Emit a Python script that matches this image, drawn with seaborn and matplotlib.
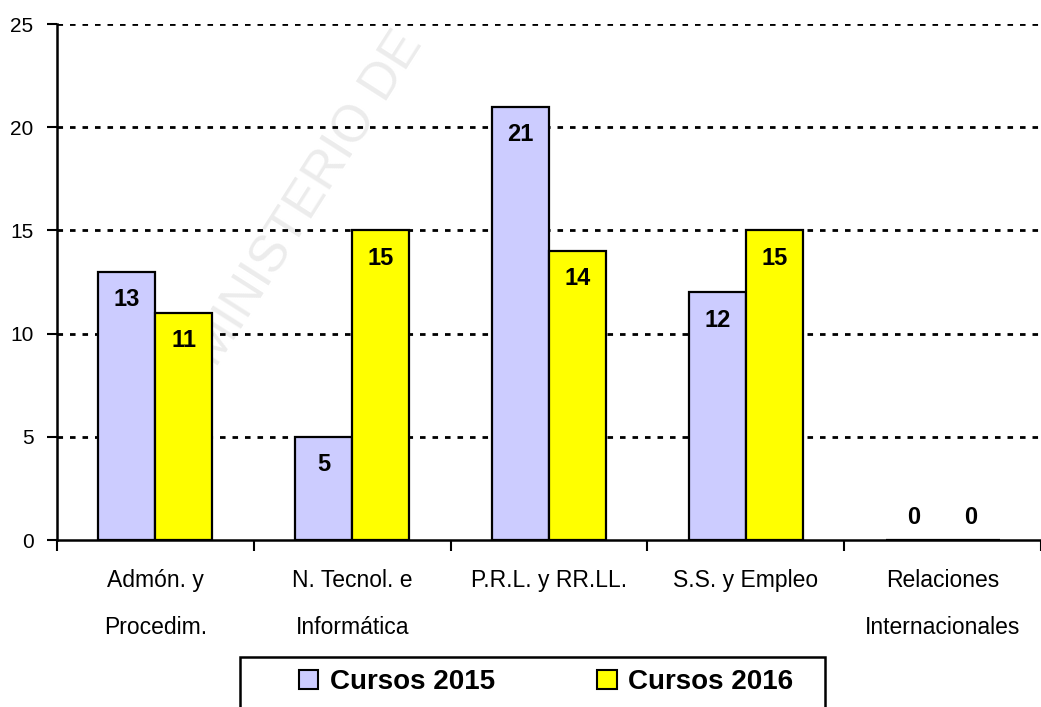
import pandas as pd
import matplotlib
matplotlib.use('Agg')
import matplotlib.pyplot as plt
import seaborn as sns
from matplotlib.patches import Rectangle

categorias = ['Admón. y\nProcedim.', 'N. Tecnol. e\nInformática', 'P.R.L. y RR.LL.',
              'S.S. y Empleo', 'Relaciones\nInternacionales']
cursos_2015 = [13, 5, 21, 12, 0]
cursos_2016 = [11, 15, 14, 15, 0]
series = ['Cursos 2015', 'Cursos 2016']
colores = ['#CCCCFF', '#FFFF00']

df = pd.DataFrame({
    'cat': categorias * 2,
    'valor': cursos_2015 + cursos_2016,
    'serie': [series[0]] * len(categorias) + [series[1]] * len(categorias),
})

sns.set_style('white')
plt.rcParams['font.family'] = ['Liberation Sans', 'DejaVu Sans']
plt.rcParams['text.color'] = 'black'
plt.rcParams['xtick.color'] = 'black'
plt.rcParams['ytick.color'] = 'black'

fig = plt.figure(figsize=(10.41, 7.07), dpi=100)
ax = fig.add_axes([57 / 1041, 1 - 540 / 707, 1 - 57 / 1041, (540 - 24) / 707])

# marca de agua tenue, detrás de las barras
ax.text(226 / 1041, 1 - 375 / 707, 'MINISTERIO DE', rotation=57.5,
        rotation_mode='anchor', ha='left', va='bottom', fontsize=37,
        color='#ececec', transform=fig.transFigure, zorder=0.5, clip_on=False)

sns.barplot(data=df, x='cat', y='valor', hue='serie', palette=colores,
            width=0.58, edgecolor='black', linewidth=1.6, saturation=1,
            ax=ax, zorder=3, legend=True)

for cont in ax.containers:
    for bar in cont:
        h = bar.get_height()
        xc = bar.get_x() + bar.get_width() / 2
        y = h - 1.35 if h > 0 else 1.1
        ax.text(xc, y, f'{h:.0f}', ha='center', va='center', fontsize=17,
                fontweight='bold', color='black', zorder=5)

ax.set_ylim(0, 25)
ax.set_xlim(-0.5, len(categorias) - 0.5)
ax.set_yticks([0, 5, 10, 15, 20, 25])
ax.set_yticklabels(['0', '5', '10', '15', '20', '25'], fontsize=15)
ax.set_xticks([i - 0.5 for i in range(len(categorias) + 1)])
ax.set_xticklabels([])
ax.set_xticks(range(len(categorias)), minor=True)
ax.set_xticklabels(categorias, minor=True, fontsize=16.5, linespacing=2.35)
ax.tick_params(axis='x', which='major', direction='out', length=8, width=1.5,
               color='black', bottom=True)
ax.tick_params(axis='x', which='minor', length=0, pad=21)
ax.tick_params(axis='y', direction='out', length=7, width=1.5, color='black',
               left=True, pad=10)
ax.set_xlabel('')
ax.set_ylabel('')

for y in [5, 10, 15, 20, 25]:
    ax.axhline(y, color='black', linestyle=(0, (2, 2.5)), linewidth=2, zorder=1)

for s in ['top', 'right']:
    ax.spines[s].set_visible(False)
for s in ['left', 'bottom']:
    ax.spines[s].set_color('black')
    ax.spines[s].set_linewidth(1.8)
    ax.spines[s].set_zorder(6)

handles, labels = ax.get_legend_handles_labels()
ax.get_legend().remove()

# recuadro de la leyenda (cortado por el borde inferior, como en el original)
fig.patches.append(Rectangle((240 / 1041, -0.02), 585 / 1041, 0.02 + 1 - 657 / 707,
                             transform=fig.transFigure, fill=False,
                             edgecolor='black', linewidth=1.8))
leg = fig.legend(handles, labels, loc='center left', ncol=2,
                 bbox_to_anchor=(299 / 1041, 1 - 682 / 707),
                 prop={'size': 20, 'weight': 'bold'}, frameon=False,
                 handlelength=0.7, handleheight=0.7, handletextpad=0.4,
                 columnspacing=3.7, borderpad=0, borderaxespad=0)
for h in leg.legend_handles:
    h.set_edgecolor('black')
    h.set_linewidth(1.5)

fig.savefig('out.png', dpi=100)
